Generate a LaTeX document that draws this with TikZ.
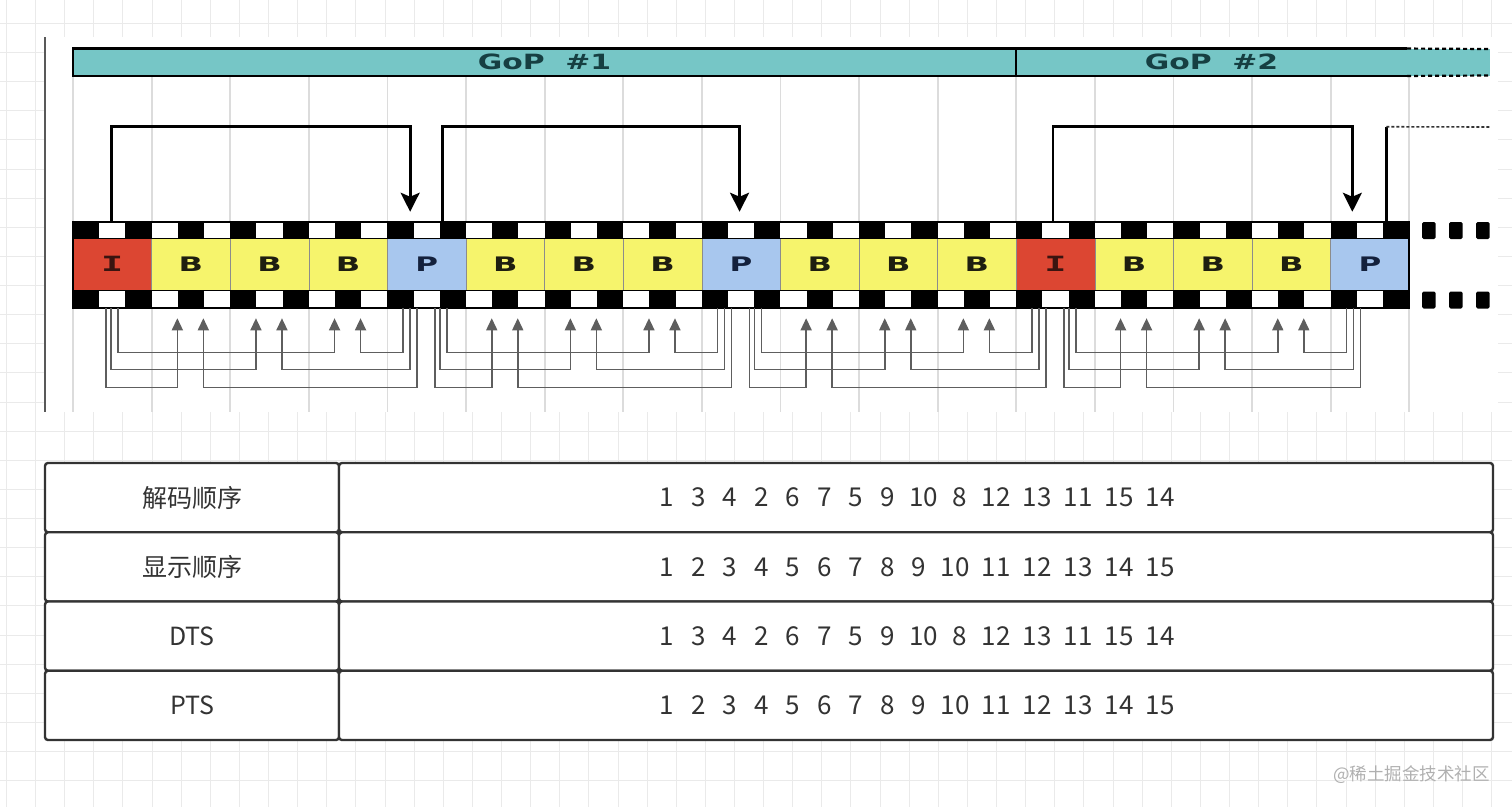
\documentclass[tikz,border=0pt]{standalone}
\usepackage{fontspec}
\usetikzlibrary{arrows.meta,calc}
\newfontfamily\cjkfont{Noto Sans CJK SC}
\newfontfamily\dvsans{DejaVu Sans}
\newfontfamily\dvmono{DejaVu Sans Mono}
\definecolor{tealbar}{HTML}{76C6C6}
\definecolor{frI}{HTML}{DC4632}
\definecolor{frB}{HTML}{F6F46C}
\definecolor{frP}{HTML}{A8C7EE}
\definecolor{lblI}{HTML}{3A1410}
\definecolor{lblB}{HTML}{1E1E10}
\definecolor{lblP}{HTML}{14213C}
\definecolor{gridc}{HTML}{EAEAEA}
\definecolor{imgline}{HTML}{DCDCDC}
\definecolor{tabline}{HTML}{333333}
\definecolor{txt}{HTML}{333333}
\definecolor{goptxt}{HTML}{163F42}
\definecolor{lowline}{HTML}{5E5E5E}
\definecolor{wmark}{HTML}{B0B0B0}
\newcommand\flI{\textcolor{lblI}{\dvmono\bfseries\fontsize{21}{21}\selectfont\scalebox{1.75}[1]{I}}}
\newcommand\flB{\textcolor{lblB}{\dvsans\bfseries\fontsize{20}{20}\selectfont\scalebox{1.6}[1]{B}}}
\newcommand\flP{\textcolor{lblP}{\dvsans\bfseries\fontsize{20}{20}\selectfont\scalebox{1.55}[1]{P}}}
\newcommand\goptext[1]{\textcolor{goptxt}{\dvsans\bfseries\fontsize{21}{21}\selectfont\scalebox{1.42}[1]{GoP\ \ \##1}}}
\newcommand\numrow[1]{\foreach \q in {#1}{\ifnum\q<10 \makebox[31.5pt][c]{\q}\else\makebox[41pt][c]{\q}\fi}}
\tikzset{
  framebox/.style={minimum width=78.6pt, minimum height=52pt, inner sep=0pt, draw=black!45, line width=0.5pt},
  gopbox/.style={minimum height=27pt, inner sep=0pt, fill=tealbar},
  gopedge/.style={black, line width=2.2pt},
  toparrow/.style={line width=2.8pt, black, -{Stealth[length=19pt,width=19pt,inset=4pt]}},
  lowarrow/.style={line width=1.5pt, lowline, -{Triangle[length=12pt,width=11pt]}},
  cellbox/.style={draw=tabline, line width=2.4pt, rounded corners=3pt, fill=white, inner sep=0pt, minimum height=69.25pt, text=txt, font=\cjkfont\fontsize{25}{25}\selectfont},
  gridln/.style={gridc, line width=1pt}
}
\begin{document}
\begin{tikzpicture}[x=1pt,y=-1pt]
\useasboundingbox (0,0) rectangle (1512,807);
\fill[white] (0,0) rectangle (1512,807);
% background grid
\foreach \k in {0,...,51} \draw[gridln] ({6.5+29.12*\k},0) -- ({6.5+29.12*\k},807);
\foreach \k in {-1,...,27} \draw[gridln] (0,{23.5+29.12*\k}) -- (1512,{23.5+29.12*\k});
% image area
\fill[white] (45,37) rectangle (1498,412);
\foreach \k in {0,...,17} \draw[imgline, line width=1.8pt] ({73+78.6*\k},76) -- ({73+78.6*\k},412);
\draw[line width=1.5pt, black!65] (45,37) -- (45,412);
% GoP bar
\fill[tealbar] (1407,49) rectangle (1490,75.5);
\node[gopbox, minimum width=943pt] (gop1) at (544.5,62.25) {\goptext{1}};
\node[gopbox, minimum width=391pt] (gop2) at (1211.5,62.25) {\goptext{2}};
\draw[gopedge] (gop2.north east) -- (gop1.north west) -- (gop1.south west) -- (gop2.south east);
\draw[gopedge] (gop1.north east) -- (gop1.south east);
\coordinate (gopendt) at (1490,49);
\coordinate (gopendb) at (1490,75.5);
\draw[line width=2.2pt, dash pattern=on 4pt off 3pt] (gop2.north east) -- (gopendt);
\draw[line width=2.2pt, dash pattern=on 4pt off 3pt] (gop2.south east) -- (gopendb);
% frames
\foreach \t [count=\i] in {I,B,B,B,P,B,B,B,P,B,B,B,I,B,B,B,P} {
  \pgfmathsetmacro\xc{73+78.6*(\i-1)+39.3}
  \node[framebox, fill=fr\t] (f\i) at (\xc,264) {\csname fl\t\endcsname};
  \coordinate (f\i-t) at ($(f\i.north west)+(0,-16)$);
  \coordinate (f\i-b) at ($(f\i.south west)+(0,18)$);
}
% sprocket strips
\fill[white] (73,222) rectangle (1409,238);
\fill[white] (73,290) rectangle (1409,308);
\foreach \k in {0,...,50} {
  \pgfmathtruncatemacro\ev{mod(\k,2)}
  \ifnum\ev=0
    \fill[black] ({73+26.2*\k},222) rectangle ({73+26.2*(\k+1)},238.5);
    \fill[black] ({73+26.2*\k},290) rectangle ({73+26.2*(\k+1)},308);
  \fi
}
\draw[black, line width=1.2pt] (73,222) -- (1409,222) -- (1409,308) -- (73,308) -- cycle;
\draw[black, line width=0.8pt] (73,238.5) -- (1409,238.5);
\draw[black, line width=0.8pt] (73,290) -- (1409,290);
% ellipsis holes
\foreach \xa in {1422,1449,1476} {
  \fill[black, rounded corners=1.5pt] (\xa,222) rectangle ({\xa+13.5},239);
  \fill[black, rounded corners=1.5pt] (\xa,291.5) rectangle ({\xa+13.5},308.5);
}
% top reference arrows
\draw[toparrow] ($(f1-t)+(39,0)$) -- ++(0,-95) -| ($(f5-t)+(23,-10)$);
\draw[toparrow] ($(f5-t)+(55,0)$) -- ++(0,-95) -| ($(f9-t)+(38,-10)$);
\draw[toparrow] ($(f13-t)+(37,0)$) -- ++(0,-95) -| ($(f17-t)+(22,-10)$);
\coordinate (dotend) at (1490,127);
\draw[line width=2.8pt] ($(f17-t)+(56,0)$) -- ++(0,-95) coordinate (a4corner);
\draw[line width=1.6pt, black!80, dash pattern=on 3pt off 2pt] (a4corner) -- (dotend);
% lower (B-frame) reference arrows
\foreach \g in {0,1,2,3} {
  \pgfmathtruncatemacro\L{4*\g+1}
  \pgfmathtruncatemacro\R{4*\g+5}
  \foreach \j/\lev/\offR/\offL in {1/79/30/48, 2/61/23/53, 3/44/16/60} {
    \pgfmathtruncatemacro\B{\L+\j}
    \pgfmathsetmacro\oL{\offL-(\g==0)*15}
    \draw[lowarrow] ($(f\L-b)+(\oL,0)$) -- ++(0,\lev) -| ($(f\B-b)+(26,10)$);
    \draw[lowarrow] ($(f\R-b)+(\offR,0)$) -- ++(0,\lev) -| ($(f\B-b)+(52,10)$);
  }
}
% table
\node[cellbox, minimum width=294pt] (l1) at (192,497.6) {解码顺序};
\node[cellbox, minimum width=294pt] (l2) at (192,566.9) {显示顺序};
\node[cellbox, minimum width=294pt] (l3) at (192,636.1) {DTS};
\node[cellbox, minimum width=294pt] (l4) at (192,705.4) {PTS};
\node[cellbox, minimum width=1154pt, font=\cjkfont\fontsize{26}{26}\selectfont] (r1) at (916,497.6) {\numrow{1,3,4,2,6,7,5,9,10,8,12,13,11,15,14}};
\node[cellbox, minimum width=1154pt, font=\cjkfont\fontsize{26}{26}\selectfont] (r2) at (916,566.9) {\numrow{1,2,3,4,5,6,7,8,9,10,11,12,13,14,15}};
\node[cellbox, minimum width=1154pt, font=\cjkfont\fontsize{26}{26}\selectfont] (r3) at (916,636.1) {\numrow{1,3,4,2,6,7,5,9,10,8,12,13,11,15,14}};
\node[cellbox, minimum width=1154pt, font=\cjkfont\fontsize{26}{26}\selectfont] (r4) at (916,705.4) {\numrow{1,2,3,4,5,6,7,8,9,10,11,12,13,14,15}};
% watermark
\node[anchor=east, inner sep=0pt, text=wmark, font=\cjkfont\fontsize{17.5}{17.5}\selectfont] (wm) at (1490,775) {@稀土掘金技术社区};
\end{tikzpicture}
\end{document}
